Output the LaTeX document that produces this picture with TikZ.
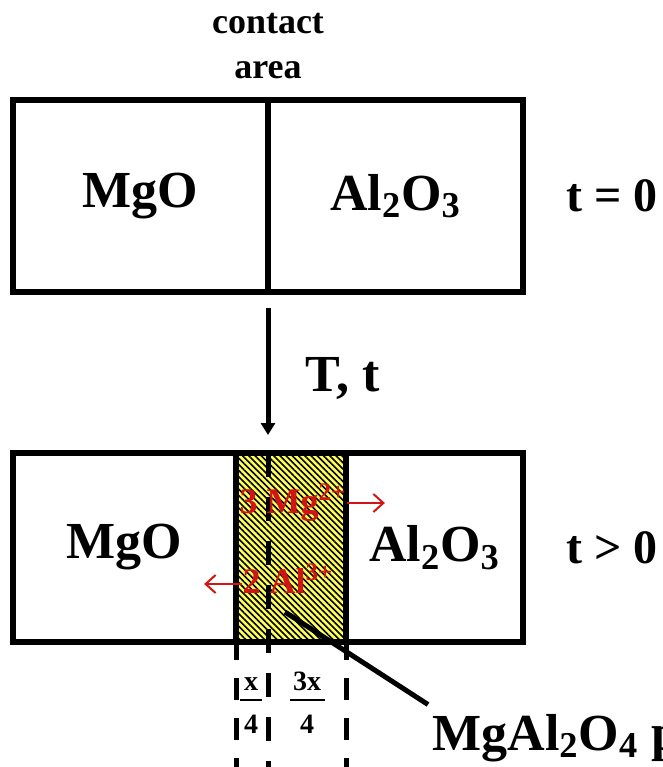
\documentclass[tikz,border=0pt]{standalone}
\usepackage{fontspec}
\setmainfont{Liberation Serif}
\definecolor{spinelYellow}{RGB}{255,255,90}
\definecolor{ionRed}{RGB}{210,20,20}
\usetikzlibrary{positioning,patterns.meta,arrows.meta}

\begin{document}
\begin{tikzpicture}[
  x=0.5pt, y=-0.5pt,
  half/.style={
    draw, line width=2.8pt, outer sep=0pt, inner sep=0pt,
    font=\fontsize{26}{30}\selectfont\bfseries
  },
  layer/.style={
    draw, line width=2.8pt, outer sep=0pt, inner sep=0pt,
    minimum width=55pt, minimum height=94.5pt,
    preaction={fill=spinelYellow},
    preaction={pattern={Lines[angle=-45,distance=2.2pt,line width=0.8pt]}, pattern color=black}
  },
  tlabel/.style={font=\fontsize{24}{28}\selectfont\bfseries},
  ion/.style={text=ionRed, inner sep=0pt, anchor=base, font=\fontsize{18}{20}\selectfont\bfseries},
  ionarr/.style={-{Straight Barb[length=5pt,width=9pt]}, draw=ionRed, line width=1pt},
  flow/.style={-{Triangle[length=6pt,width=7pt]}, line width=2.5pt},
  guide/.style={line width=2.5pt, dash pattern=on 11pt off 9pt},
  frac/.style={inner sep=0pt, anchor=base, font=\fontsize{14}{15}\selectfont\bfseries},
  pointer/.style={line width=2.5pt}
]
  \useasboundingbox (0,0) rectangle (663,767);
  \coordinate (bottom) at (0,767);

  \node[font=\fontsize{18}{22.5}\selectfont\bfseries, align=center] (contact) at (268,46) {contact\\area};

  % t = 0
  \node[half, minimum width=127.5pt, minimum height=96pt] (mgo1) at (140.5,196) {MgO};
  \node[half, minimum width=127.5pt, minimum height=96pt, right=0pt of mgo1] (al1) {Al\textsubscript{2}O\textsubscript{3}};
  \node[tlabel, right=18pt of al1] (t0) {t = 0};

  % t > 0
  \node[half, minimum width=111.5pt, minimum height=94.5pt] (mgo2) at (124.5,547.5) {MgO};
  \node[layer, right=0pt of mgo2] (spinel) {};
  \node[half, minimum width=88.5pt, minimum height=94.5pt, right=0pt of spinel] (al2) {Al\textsubscript{2}O\textsubscript{3}};
  \node[tlabel, right=18pt of al2] (t1) {t > 0};

  \draw[flow] ([yshift=-8pt]mgo1.south east) -- ([yshift=9pt]mgo1.south east |- spinel.north);
  \node[font=\fontsize{26}{30}\selectfont\bfseries] (Tt) at (343,378) {T, t};

  \draw[guide, dash pattern=on 12pt off 10pt] (mgo1.south east |- spinel.north) -- (mgo1.south east |- bottom);
  \draw[guide, dash phase=2pt] (spinel.south west) -- (spinel.south west |- bottom);
  \draw[guide, dash phase=2pt] (spinel.south east) -- (spinel.south east |- bottom);

  \node[ion] (mg) at (293,513) {3 Mg\textsuperscript{2+}};
  \node[ion] (al) at (288,593) {2 Al\textsuperscript{3+}};
  \draw[ionarr] ([yshift=5pt]mg.base east) -- ++(19pt,0);
  \draw[ionarr] ([yshift=4.5pt]al.base west) -- ++(-19pt,0);

  \node[frac] (q1) at (251,690) {\begin{tabular}[t]{@{}c@{}}x\\[-9.5pt]\rule{11pt}{0.8pt}\\[1pt]4\end{tabular}};
  \node[frac] (q3) at (307,690) {\begin{tabular}[t]{@{}c@{}}3x\\[-9.5pt]\rule{17.5pt}{0.8pt}\\[1pt]4\end{tabular}};

  \node[inner sep=0pt, anchor=base west, font=\fontsize{26}{30}\selectfont\bfseries] (prod) at (432,750) {MgAl\textsubscript{2}O\textsubscript{4} phase};
  \coordinate (tip) at (285,612);
  \draw[pointer] (tip) -- ([shift={(-2pt,4.5pt)}]prod.north west);
\end{tikzpicture}
\end{document}
